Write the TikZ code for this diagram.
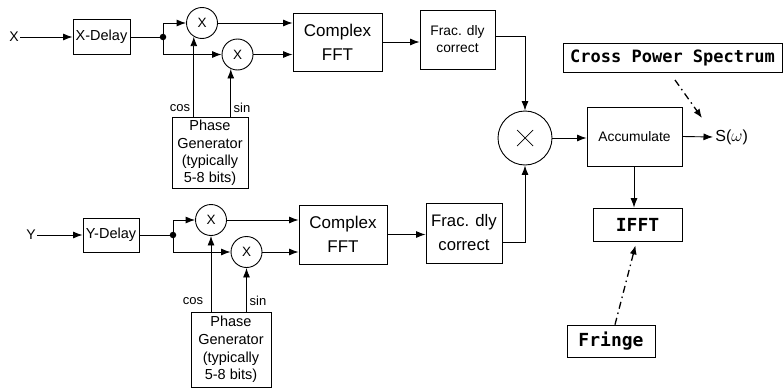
\documentclass[tikz,border=0pt]{standalone}
\usepackage{fontspec}
\setmainfont{Liberation Sans}
\newfontfamily\codefont{DejaVu Sans Mono}
\usetikzlibrary{arrows.meta}

\tikzset{
  arr/.style={-{Latex[length=9.5pt,width=7pt]}},
  blk/.style={draw, line width=0.9pt, inner sep=0pt, align=center},
  mult/.style={circle, draw, line width=0.9pt, minimum size=31pt, inner sep=0pt, font=\fontsize{13.5}{13.5}\selectfont},
  junc/.style={circle, fill, minimum size=6.5pt, inner sep=0pt},
  lbl/.style={inner sep=1pt},
  codebox/.style={draw, line width=0.7pt, inner sep=0pt, font=\codefont\bfseries},
  dashdot/.style={line width=1.3pt, dash pattern=on 7pt off 4pt on 1.5pt off 4pt,
                  -{Latex[length=9pt,width=7pt]}},
}

\begin{document}
\begin{tikzpicture}[x=1pt, y=-1pt, line width=0.9pt]
\useasboundingbox (0,0) rectangle (783,388);

% ---------- X channel ----------
\node[lbl, font=\fontsize{14}{14}\selectfont] (xin) at (14,37) {X};
\node[blk, minimum width=57pt, minimum height=35pt, font=\fontsize{14.5}{16}\selectfont] (xdel) at (101.5,37) {X-Delay};
\node[junc] (j1) at (163,37) {};
\node[mult] (c1) at (202,23) {X};
\node[mult] (c2) at (237.5,54.5) {X};
\node[blk, minimum width=89pt, minimum height=58pt, font=\fontsize{17}{24}\selectfont] (fft1) at (337.5,42) {Complex\\FFT};
\node[blk, minimum width=75pt, minimum height=59pt, font=\fontsize{13.8}{17}\selectfont] (frac1) at (457.5,39.5) {Frac. dly\\correct};
\node[blk, minimum width=76pt, minimum height=71pt, font=\fontsize{14.5}{17.3}\selectfont] (pg1) at (210,153) {Phase\\Generator\\(typically\\5-8 bits)};
\node[lbl, font=\fontsize{13}{13}\selectfont] (cos1) at (180,108) {cos};
\node[lbl, font=\fontsize{13}{13}\selectfont] (sin1) at (242,108) {sin};

\draw[arr] (xin) -- (xdel);
\draw (xdel) -- (j1.center);
\draw[arr] (j1.center) |- (c1);
\draw[arr] (j1.center) |- (c2);
\draw[arr] (c1) -- (c1 -| fft1.west);
\draw[arr] (c2) -- (c2 -| fft1.west);
\draw[arr] (fft1.east) -- (fft1.east -| frac1.west);
\draw[arr] (c1.239 |- pg1.north) -- (c1.239);
\draw[arr] (c2.245 |- pg1.north) -- (c2.245);

% ---------- Y channel ----------
\node[lbl, font=\fontsize{14}{14}\selectfont] (yin) at (31,235) {Y};
\node[blk, minimum width=56pt, minimum height=34pt, font=\fontsize{14.5}{16}\selectfont] (ydel) at (111,235) {Y-Delay};
\node[junc] (j2) at (173,235) {};
\node[mult] (c3) at (211,220) {X};
\node[mult] (c4) at (246.5,252) {X};
\node[blk, minimum width=88pt, minimum height=59pt, font=\fontsize{17}{24}\selectfont] (fft2) at (343,234.5) {Complex\\FFT};
\node[blk, minimum width=76pt, minimum height=60pt, font=\fontsize{16.7}{24}\selectfont] (frac2) at (464,233) {Frac. dly\\correct};
\node[blk, minimum width=80pt, minimum height=75pt, font=\fontsize{14.5}{17.7}\selectfont] (pg2) at (231,349.5) {Phase\\Generator\\(typically\\5-8 bits)};
\node[lbl, font=\fontsize{13}{13}\selectfont] (cos2) at (193,301) {cos};
\node[lbl, font=\fontsize{13}{13}\selectfont] (sin2) at (258,301) {sin};

\draw[arr] (yin) -- (ydel);
\draw (ydel) -- (j2.center);
\draw[arr] (j2.center) |- (c3);
\draw[arr] (j2.center) |- (c4);
\draw[arr] (c3) -- (c3 -| fft2.west);
\draw[arr] (c4) -- (c4 -| fft2.west);
\draw[arr] (fft2.east) -- (fft2.east -| frac2.west);
\draw[arr] (c3.south |- pg2.north) -- (c3.south);
\draw[arr] (c4.south |- pg2.north) -- (c4.south);

% ---------- cross multiply and accumulate ----------
\node[circle, draw, line width=0.9pt, minimum size=54pt, inner sep=0pt] (big) at (525,138) {};
\draw[line width=0.7pt] ([shift={(-8,-8)}]big.center) -- ([shift={(8,8)}]big.center)
                        ([shift={(-8,8)}]big.center) -- ([shift={(8,-8)}]big.center);
\draw[arr] ([yshift=3.5pt]frac1.east) -| (big);
\draw[arr] ([yshift=-9pt]frac2.east) -| (big);

\node[blk, minimum width=95pt, minimum height=59pt, font=\fontsize{13.8}{16}\selectfont] (acc) at (634.5,136.5) {Accumulate};
\node[lbl, anchor=west, inner sep=2pt, font=\fontsize{16}{16}\selectfont] (sw) at (713,137) {S($\omega$)};
\draw[arr] (big) -- (big -| acc.west);
\draw[arr] (acc.east) -- (sw.west);

\node[codebox, minimum width=219pt, minimum height=29pt, font=\codefont\bfseries\fontsize{17}{17}\selectfont] (cps) at (672.5,57.5) {Cross Power Spectrum};
\coordinate (cpsfrom) at (675,80);
\coordinate (cpsto) at (702,118);
\draw[dashdot] (cpsfrom) -- (cpsto);

\node[codebox, minimum width=89pt, minimum height=33pt, font=\codefont\bfseries\fontsize{18}{18}\selectfont] (ifft) at (637.5,224.5) {IFFT};
\node[codebox, minimum width=88pt, minimum height=32pt, font=\codefont\bfseries\fontsize{18}{18}\selectfont] (fringe) at (611,341) {Fringe};
\draw[arr] (acc.south -| 634,0) -- (634,0 |- ifft.north);
\draw[dashdot] ([xshift=4pt]fringe.north) -- ([xshift=-2pt,yshift=-4pt]ifft.south);
\end{tikzpicture}
\end{document}
